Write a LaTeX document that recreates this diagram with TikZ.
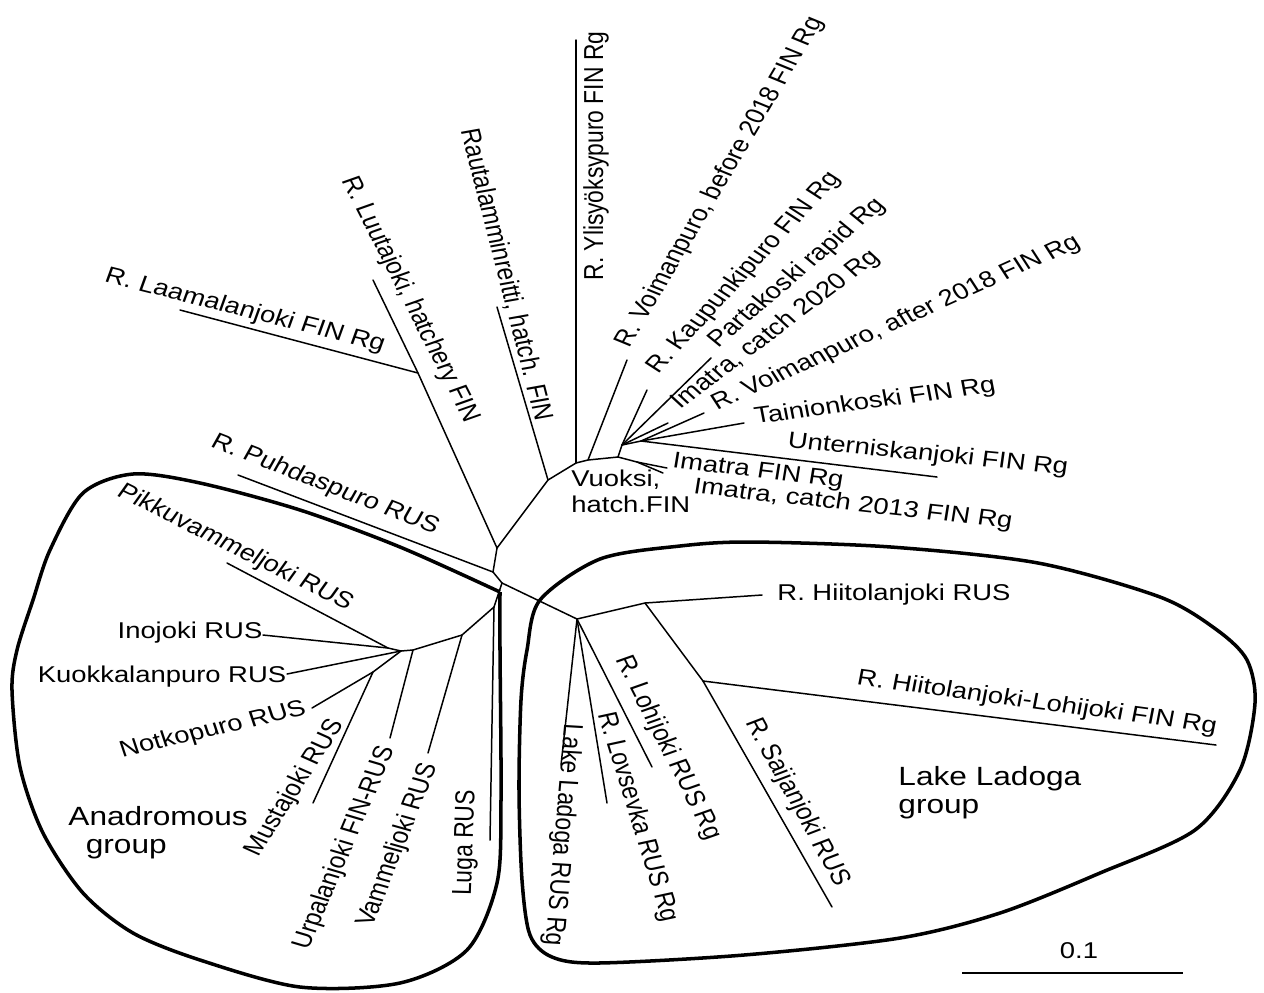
\documentclass[tikz,border=0pt]{standalone}
\usepackage{fontspec}
\setmainfont{Liberation Sans}
\usetikzlibrary{positioning}
\newcommand{\leaffont}{\fontsize{13}{14.3}\selectfont}
\newcommand{\grpfont}{\fontsize{15}{16}\selectfont}
\tikzset{
  branch/.style={line width=0.85pt, line cap=round},
  outline/.style={line width=2pt},
  leaf/.style={font=\leaffont, inner sep=0pt, xscale=1.2},
  grouplbl/.style={font=\grpfont, inner sep=0pt, xscale=1.2, align=left, anchor=north west},
}
\begin{document}
\begin{tikzpicture}[x=0.02cm, y=-0.02cm]
    \useasboundingbox (0,0) rectangle (1264,992);

    % inner nodes of the tree
    \coordinate (a) at (497,548);
    \coordinate (lt) at (418,373);
    \coordinate (r) at (548,480);
    \coordinate (v1) at (576,463);
    \coordinate (v2) at (588,460);
    \coordinate (w) at (618,457);
    \coordinate (im) at (637,462);
    \coordinate (k) at (622,445);
    \coordinate (k2) at (641,441);
    \coordinate (x) at (493,572);
    \coordinate (b) at (502,583);
    \coordinate (e) at (494,607);
    \coordinate (d) at (462,635);
    \coordinate (f) at (413,650);
    \coordinate (g2) at (401,651);
    \coordinate (g1) at (388,648);
    \coordinate (h) at (373,672);
    \coordinate (c) at (577,619);
    \coordinate (m) at (645,603);
    \coordinate (n) at (703,681);

    % leaf ends
    \coordinate (tLaama) at (180,310);
    \coordinate (tLuuta) at (373,280);
    \coordinate (tRauta) at (497,307);
    \coordinate (tYlis) at (576,40);
    \coordinate (tVoimB) at (627,360);
    \coordinate (tKaup) at (647,390);
    \coordinate (tPart) at (711,358);
    \coordinate (t2020) at (668,423);
    \coordinate (tVoimA) at (704,413);
    \coordinate (tTain) at (744,423);
    \coordinate (tUnt) at (937,477);
    \coordinate (tImF) at (667,468);
    \coordinate (tIm13) at (663,473);
    \coordinate (tPuhd) at (238,475);
    \coordinate (tPikku) at (227,563);
    \coordinate (tIno) at (263,635);
    \coordinate (tKuok) at (287,674);
    \coordinate (tNotk) at (312,708);
    \coordinate (tMust) at (313,803);
    \coordinate (tUrpa) at (390,738);
    \coordinate (tVamm) at (428,753);
    \coordinate (tLuga) at (490,840);
    \coordinate (tLLad) at (561,765);
    \coordinate (tLovs) at (607,803);
    \coordinate (tLohi) at (652,767);
    \coordinate (tHiiR) at (762,595);
    \coordinate (tSaij) at (832,907);
    \coordinate (tHiiL) at (1216,745);

    % FIN part
    \draw[branch] (tLaama) -- (lt);
    \draw[branch] (tLuuta) -- (lt) -- (a) -- (r) -- (v1) -- (v2) -- (w) -- (k);
    \draw[branch] (r) -- (tRauta);
    \draw[branch] (v1) -- (tYlis);
    \draw[branch] (v2) -- (tVoimB);
    \draw[branch] (w) -- (im);
    \foreach \t in {tImF,tIm13} \draw[branch] (im) -- (\t);
    \foreach \t in {tKaup,tPart,t2020,k2} \draw[branch] (k) -- (\t);
    \foreach \t in {tVoimA,tTain,tUnt} \draw[branch] (k2) -- (\t);

    % anadromous part
    \draw[branch] (a) -- (x) -- (b) -- (e) -- (d) -- (f) -- (g2) -- (g1);
    \draw[branch] (x) -- (tPuhd);
    \draw[branch] (e) -- (tLuga);
    \draw[branch] (d) -- (tVamm);
    \draw[branch] (f) -- (tUrpa);
    \foreach \t in {tIno,tPikku} \draw[branch] (g1) -- (\t);
    \draw[branch] (g2) -- (tKuok);
    \draw[branch] (g2) -- (h);
    \foreach \t in {tNotk,tMust} \draw[branch] (h) -- (\t);

    % ladoga part
    \draw[branch] (b) -- (c) -- (m) -- (n);
    \draw[branch] (m) -- (tHiiR);
    \foreach \t in {tSaij,tHiiL} \draw[branch] (n) -- (\t);
    \foreach \t in {tLLad,tLovs,tLohi} \draw[branch] (c) -- (\t);

    % group outlines
    \draw[outline] plot[smooth] coordinates {(500,592) (400,547) (300,510) (200,483) (133,474)
      (83,493) (50,550) (33,600) (17,650) (12,690) (20,767) (43,833) (83,893) (133,933)
      (200,960) (300,987) (400,983) (467,950) (497,883) (501,800) (500,650) (500,592)};
    \draw[outline] plot[smooth cycle] coordinates {(600,559) (680,546) (750,542) (891,547)
      (1038,563) (1160,597) (1217,630) (1247,660) (1255,703) (1240,770) (1195,830)
      (1100,873) (1000,913) (900,938) (744,955) (598,963) (552,957) (530,935) (522,880)
      (519,790) (521,700) (527,650) (540,600)};

    % labels
    \node[leaf, rotate=-16.7] (lLaama) at (245,311) {R. Laamalanjoki FIN Rg};
    \node[leaf, rotate=-67] (lLuuta) at (410,300) {R. Luutajoki, hatchery FIN};
    \node[leaf, rotate=-77.9] (lRauta) at (506,275) {Rautalamminreitti, hatch. FIN};
    \node[leaf, rotate=90] (lYlis) at (596,156) {R. Ylisyöksypuro FIN Rg};
    \node[leaf, rotate=63.8] (lVoimB) at (720,182) {R. Voimanpuro, before 2018 FIN Rg};
    \node[leaf, rotate=52.2] (lKaup) at (744,273) {R. Kaupunkipuro FIN Rg};
    \node[leaf, rotate=45.5] (lPart) at (797,273) {Partakoski rapid Rg};
    \node[leaf, rotate=42.1] (l2020) at (776,330) {Imatra, catch 2020 Rg};
    \node[leaf, rotate=28.4] (lVoimA) at (896,323) {R. Voimanpuro, after 2018 FIN Rg};
    \node[leaf, rotate=9.1] (lTain) at (875,402) {Tainionkoski FIN Rg};
    \node[leaf, rotate=-6.6] (lUnt) at (928,455) {Unterniskanjoki FIN Rg};
    \node[leaf, rotate=-7.8] (lImF) at (758,472) {Imatra FIN Rg};
    \node[leaf, rotate=-7.6] (lIm13) at (853,505) {Imatra, catch 2013 FIN Rg};
    \node[leaf, align=left, anchor=north west] (lVuok) at (571,470) {Vuoksi,\\hatch.FIN};

    \node[leaf, rotate=-25.1] (lPuhd) at (325,485) {R. Puhdaspuro RUS};
    \node[leaf, rotate=-30.8] (lPikku) at (235,548) {Pikkuvammeljoki RUS};
    \node[leaf] (lIno) at (190,633) {Inojoki RUS};
    \node[leaf] (lKuok) at (162,677) {Kuokkalanpuro RUS};
    \node[leaf, rotate=15.5] (lNotk) at (213,730) {Notkopuro RUS};
    \node[leaf, rotate=61.7] (lMust) at (295,788) {Mustajoki RUS};
    \node[leaf, rotate=70.4] (lUrpa) at (345,848) {Urpalanjoki FIN-RUS};
    \node[leaf, rotate=71.4] (lVamm) at (398,845) {Vammeljoki RUS};
    \node[leaf, rotate=88.3] (lLuga) at (466,843) {Luga RUS};

    \node[leaf, rotate=-94.1] (lLLad) at (562,835) {Lake Ladoga RUS Rg};
    \node[leaf, rotate=-75.5] (lLovs) at (637,817) {R. Lovsevka RUS Rg};
    \node[leaf, rotate=-67] (lLohi) at (668,748) {R. Lohijoki RUS Rg};
    \node[leaf, rotate=-65.3] (lSaij) at (797,802) {R. Saijanjoki RUS};
    \node[leaf] (lHiiR) at (894,595) {R. Hiitolanjoki RUS};
    \node[leaf, rotate=-9.2] (lHiiL) at (1037,703) {R. Hiitolanjoki-Lohijoki FIN Rg};

    \node[grouplbl] (anadromous) at (68,806) {Anadromous\\\hspace*{0.55em}group};
    \node[grouplbl] (ladoga) at (898,766) {Lake Ladoga\\group};

    % scale bar
    \coordinate (sb1) at (962,973);
    \coordinate (sb2) at (1183,973);
    \draw[branch, line cap=butt] (sb1) -- (sb2);
    \node[leaf] (scalelbl) at (1079,951) {0.1};
\end{tikzpicture}
\end{document}
